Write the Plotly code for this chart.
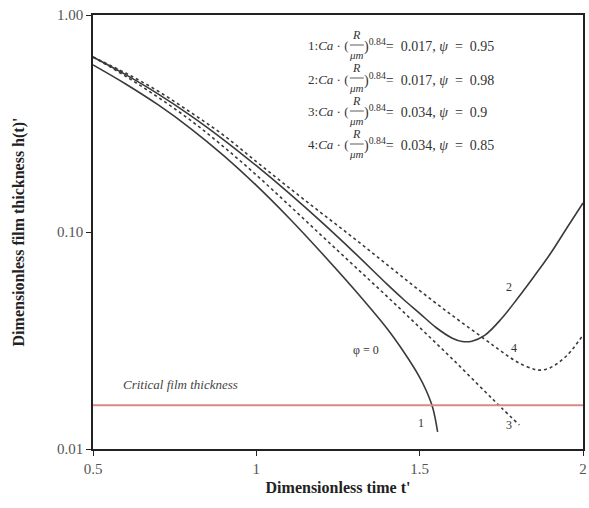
import math
import plotly.graph_objects as go

# ---- data ----
t1 = [0.5, 0.6, 0.7, 0.8, 0.9, 1.0, 1.1, 1.2, 1.3, 1.4, 1.45, 1.5, 1.52, 1.54, 1.555]
h1 = [0.589, 0.481, 0.385, 0.299, 0.225, 0.164, 0.116, 0.0800, 0.0543, 0.0359, 0.0282, 0.0214, 0.0186, 0.0155, 0.0120]

t2 = [0.5, 0.6, 0.7, 0.8, 0.9, 1.0, 1.1, 1.2, 1.3, 1.4, 1.45, 1.5, 1.55, 1.6, 1.63, 1.66, 1.7, 1.75, 1.8, 1.85, 1.9, 1.95, 2.0]
h2 = [0.640, 0.531, 0.432, 0.343, 0.266, 0.202, 0.151, 0.111, 0.0804, 0.0575, 0.0490, 0.0422, 0.0363, 0.0324, 0.0313, 0.0314, 0.0335, 0.0398, 0.0495, 0.0624, 0.0794, 0.104, 0.136]

t3 = [0.5, 0.6, 0.7, 0.8, 0.9, 1.0, 1.1, 1.2, 1.3, 1.4, 1.5, 1.6, 1.7, 1.75, 1.805]
h3 = [0.640, 0.522, 0.417, 0.326, 0.247, 0.183, 0.133, 0.0962, 0.0697, 0.0505, 0.0363, 0.0260, 0.0184, 0.0155, 0.0129]

t4 = [0.5, 0.6, 0.7, 0.8, 0.9, 1.0, 1.1, 1.2, 1.3, 1.4, 1.5, 1.6, 1.7, 1.75, 1.8, 1.85, 1.87, 1.9, 1.95, 2.0]
h4 = [0.640, 0.540, 0.445, 0.355, 0.279, 0.211, 0.160, 0.122, 0.0933, 0.0708, 0.0537, 0.0412, 0.0320, 0.0282, 0.0251, 0.0233, 0.0231, 0.0237, 0.0269, 0.0335]

critical_h = 0.0159
x_range = [0.5, 2.0]
x_ticks = [0.5, 1, 1.5, 2]
x_tick_labels = ["0.5", "1", "1.5", "2"]
y_ticks = [0.01, 0.1, 1.0]
y_tick_labels = ["0.01", "0.10", "1.00"]

legend_rows = [("1", "0.017", "0.95"), ("2", "0.017", "0.98"), ("3", "0.034", "0.9"), ("4", "0.034", "0.85")]

curve_labels = [("1", 1.505, 0.0132), ("2", 1.772, 0.0558), ("3", 1.772, 0.0129), ("4", 1.79, 0.0292), ("φ = 0", 1.335, 0.0286)]

# ---- figure ----
W, H = 589, 508
L, R, T, B = 93, 2, 15, 59
pw, ph = W - L - R, H - T - B

def px(x):
    return (x - L) / pw

def py(y):
    return 1 - (y - T) / ph

SERIF = "Liberation Serif"
LINE = "#3a3a3a"

fig = go.Figure()
fig.add_trace(go.Scatter(x=t1, y=h1, mode="lines", line=dict(color=LINE, width=1.6, shape="spline"), showlegend=False))
fig.add_trace(go.Scatter(x=t2, y=h2, mode="lines", line=dict(color=LINE, width=1.6, shape="spline"), showlegend=False))
fig.add_trace(go.Scatter(x=t3, y=h3, mode="lines", line=dict(color=LINE, width=1.6, dash="3px,3px", shape="spline"), showlegend=False))
fig.add_trace(go.Scatter(x=t4, y=h4, mode="lines", line=dict(color=LINE, width=1.6, dash="3px,3px", shape="spline"), showlegend=False))
fig.add_trace(go.Scatter(x=x_range, y=[critical_h, critical_h], mode="lines",
                         line=dict(color="#d98a86", width=2), showlegend=False))

ann = []
for txt, x, y in curve_labels:
    ann.append(dict(x=x, y=math.log10(y), xref="x", yref="y", text=txt, showarrow=False,
                    font=dict(family=SERIF, size=12, color="#333")))
ann.append(dict(x=0.767, y=math.log10(critical_h) + 0.095, xref="x", yref="y",
                text="<i>Critical film thickness</i>", showarrow=False,
                font=dict(family=SERIF, size=13, color="#444")))

shapes = []
for i, (n, ca, psi) in enumerate(legend_rows):
    yc = 46 + 33 * i
    ann.append(dict(x=px(352), y=py(yc), xref="paper", yref="paper", xanchor="right", yanchor="middle",
                    text=f"{n}:<i>Ca</i> · (", showarrow=False, font=dict(family=SERIF, size=13, color="#333")))
    ann.append(dict(x=px(359), y=py(yc - 11), xref="paper", yref="paper", xanchor="center", yanchor="middle",
                    text="<i>R</i>", showarrow=False, font=dict(family=SERIF, size=12, color="#333")))
    ann.append(dict(x=px(359), y=py(yc + 9), xref="paper", yref="paper", xanchor="center", yanchor="middle",
                    text="<i>μm</i>", showarrow=False, font=dict(family=SERIF, size=11, color="#333")))
    ann.append(dict(x=px(364), y=py(yc), xref="paper", yref="paper", xanchor="left", yanchor="middle",
                    text=f")<sup>0.84</sup>=  {ca}, <i>ψ</i>  =  {psi}", showarrow=False,
                    font=dict(family=SERIF, size=14, color="#333")))
    shapes.append(dict(type="line", xref="paper", yref="paper", x0=px(352), x1=px(366), y0=py(yc - 1), y1=py(yc - 1),
                       line=dict(color="#333", width=0.8)))

fig.update_layout(
    width=W, height=H,
    margin=dict(l=L, r=R, t=T, b=B),
    plot_bgcolor="white", paper_bgcolor="white",
    annotations=ann, shapes=shapes,
    xaxis=dict(range=x_range, tickvals=x_ticks, ticktext=x_tick_labels, showgrid=False, zeroline=False,
               showline=True, linecolor="#222", linewidth=1.5, mirror=True, ticks="outside", ticklen=5,
               tickcolor="#222", tickfont=dict(family=SERIF, size=15, color="#555"),
               title=dict(text="<b>Dimensionless time t'</b>", font=dict(family=SERIF, size=16, color="#222"), standoff=6)),
    yaxis=dict(type="log", range=[-2, 0], tickvals=y_ticks, ticktext=y_tick_labels, showgrid=False, zeroline=False,
               showline=True, linecolor="#222", linewidth=1.5, mirror=True, ticks="outside", ticklen=5,
               tickcolor="#222", tickfont=dict(family=SERIF, size=15, color="#555"),
               title=dict(text="<b>Dimensionless film thickness h(t)'</b>", font=dict(family=SERIF, size=16, color="#222"), standoff=28)),
)

fig.write_html("out.html")
